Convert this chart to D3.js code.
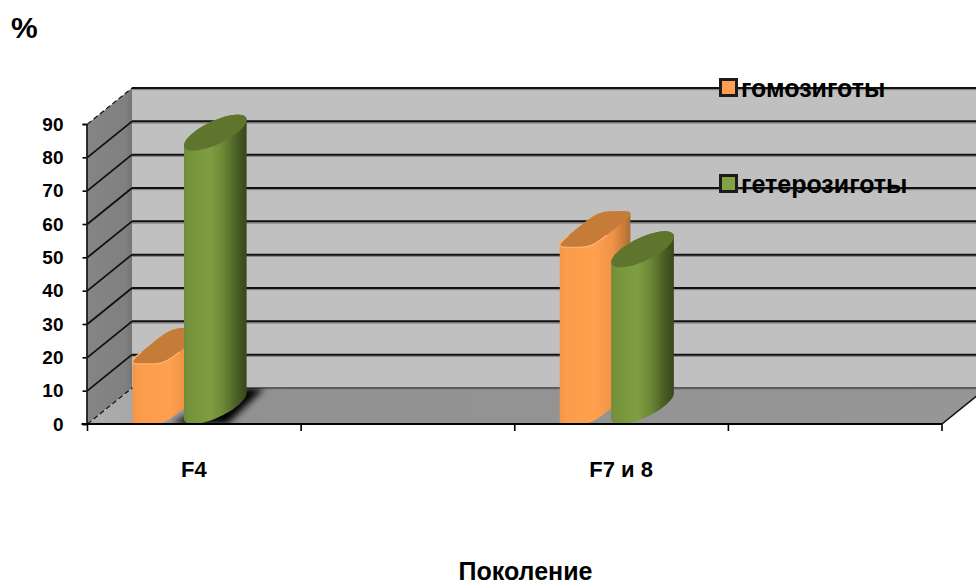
<!DOCTYPE html>
<html>
<head>
<meta charset="utf-8">
<script src="https://cdn.jsdelivr.net/npm/d3@7/dist/d3.min.js"></script>
<style>
  html, body { margin: 0; padding: 0; background: #fff; }
  svg { display: block; }
  text { font-family: "Liberation Sans", Arial, sans-serif; font-weight: 700; fill: #000; }
</style>
</head>
<body>
<svg id="chart" width="976" height="582"></svg>
<script>
// Chart data
const categories = ["F4", "gap1", "F7 и 8", "gap2"];
const categoryLabels = ["F4", "", "F7 и 8", ""];
const seriesNames = ["гомозиготы", "гетерозиготы"];
const homozygotes = [18, null, 53, null];
const heterozygotes = [82, null, 47, null];
const yTicks = [0, 10, 20, 30, 40, 50, 60, 70, 80, 90];

const svg = d3.select("#chart");
const W = 976, H = 582;
const depth = { x: 44.5, y: -36 };

const y = d3.scaleLinear().domain([0, 90]).range([424, 124]);
const x = d3.scaleBand().domain(categories).range([87.5, 942]);

const defs = svg.append("defs");

function hGradient(id, stops) {
  const g = defs.append("linearGradient").attr("id", id)
    .attr("x1", 0).attr("x2", 1).attr("y1", 0).attr("y2", 0);
  stops.forEach(([o, c]) => g.append("stop").attr("offset", o).attr("stop-color", c));
}
hGradient("orangeBody", [[0, "#f39546"], [0.08, "#fb9c4c"], [0.5, "#ffa04f"], [0.75, "#ee9346"], [0.92, "#c67a38"], [1, "#ad6a30"]]);
hGradient("greenBody", [[0, "#6f8a38"], [0.06, "#76933b"], [0.42, "#7f9e40"], [0.62, "#6d8937"], [0.85, "#485d24"], [1, "#37471a"]]);
hGradient("sideWall", [[0, "#858585"], [0.85, "#808080"], [1, "#757575"]]);
hGradient("floorTone", [[0, "#aeaeae"], [0.06, "#a6a6a6"], [0.14, "#919191"], [1, "#969696"]]);

defs.append("filter").attr("id", "softShadow")
  .attr("x", "-30%").attr("y", "-30%").attr("width", "160%").attr("height", "160%")
  .append("feGaussianBlur").attr("stdDeviation", 3.5);
defs.append("filter").attr("id", "softEdge")
  .attr("x", "-10%").attr("y", "-10%").attr("width", "120%").attr("height", "120%")
  .append("feGaussianBlur").attr("stdDeviation", 0.6);
defs.append("clipPath").attr("id", "floorClip").append("polygon")
  .attr("points", [[y.range()[0], 0]].length ? floorPoints().join(" ") : "");

function floorPoints() {
  const x0 = x.range()[0], x1 = x.range()[1], b = y(0);
  return [[x0, b], [x1, b], [x1 + depth.x, b + depth.y], [x0 + depth.x, b + depth.y]];
}

const line = d3.line();
const closed = pts => line(pts) + "Z";

// Walls and floor of the box
const xL = x.range()[0], xR = x.range()[1];
const backL = xL + depth.x;
svg.append("rect").attr("x", backL).attr("y", y(90) + depth.y)
  .attr("width", W - backL).attr("height", y(0) - y(90)).attr("fill", "#c0c0c0");
svg.append("path").attr("fill", "url(#sideWall)")
  .attr("d", closed([[xL, y(0)], [xL, y(90)], [backL, y(90) + depth.y], [backL, y(0) + depth.y]]));
svg.append("path").attr("fill", "url(#floorTone)").attr("d", closed(floorPoints()));

// Grid lines on the back wall and side wall
yTicks.forEach(v => {
  const yb = y(v) + depth.y;
  svg.append("line").attr("x1", backL).attr("x2", W).attr("y1", yb + 1.6).attr("y2", yb + 1.6)
    .attr("stroke", "#8a8a8a").attr("stroke-width", 1.4);
  svg.append("line").attr("x1", backL).attr("x2", W).attr("y1", yb).attr("y2", yb)
    .attr("stroke", v === 0 ? "#5c5c5c" : "#101010").attr("stroke-width", 2);
  const edge = v === 0 || v === 90;
  svg.append("line").attr("x1", xL).attr("x2", backL)
    .attr("y1", y(v)).attr("y2", yb)
    .attr("stroke", "#111").attr("stroke-width", edge ? 1.2 : 1.8)
    .attr("stroke-dasharray", edge ? "5 3" : null);
});

// Floor edge running off to the right
svg.append("line").attr("x1", xR).attr("y1", y(0))
  .attr("x2", xR + depth.x).attr("y2", y(0) + depth.y)
  .attr("stroke", "#111").attr("stroke-width", 1.6);

// Soft cast shadow beside the first green column
const firstCentre = x("F4") + x.bandwidth() / 2;
svg.append("g").attr("clip-path", "url(#floorClip)")
  .append("path").attr("fill", "#000").attr("filter", "url(#softShadow)")
  .attr("d", closed([
    [firstCentre - 24, y(0)], [firstCentre + 33, y(0)],
    [firstCentre + 70, y(0) + depth.y], [firstCentre + 50, y(0) + depth.y]
  ]));

// Cross-section of a column: a superellipse inside a sheared rectangle
function section(cx, baseY, w, roundness) {
  return d3.range(0, 360, 5).map(deg => {
    const t = deg * Math.PI / 180;
    const c = Math.cos(t), s = Math.sin(t);
    const cp = Math.sign(c) * Math.pow(Math.abs(c), roundness);
    const sp = Math.sign(s) * Math.pow(Math.abs(s), roundness);
    return [cx + cp * w / 2 + sp * depth.x / 2, baseY + sp * depth.y / 2];
  });
}

const seriesStyle = [
  { values: homozygotes, offset: -26.5, w: 38, round: 0.45, body: "url(#orangeBody)", cap: "#c57b37", rim: "#ffb36a" },
  { values: heterozygotes, offset: 21, w: 44, round: 1, body: "url(#greenBody)", cap: "#5f752d", rim: null }
];

categories.forEach((cat, i) => {
  seriesStyle.forEach(st => {
    const v = st.values[i];
    if (v == null) return;
    const cx = x(cat) + x.bandwidth() / 2 + st.offset;
    const midBase = y(0) + depth.y / 2;
    const h = y(0) - y(v);
    const bottom = section(cx, midBase, st.w, st.round);
    const top = section(cx, midBase - h, st.w, st.round);
    const g = svg.append("g").attr("filter", "url(#softEdge)");
    g.append("path").attr("fill", st.body).attr("d", closed(d3.polygonHull(bottom.concat(top))));
    g.append("path").attr("fill", st.cap).attr("d", closed(top));
    if (st.rim) {
      const rim = top.filter(p => p[1] > midBase - h + 3 && p[0] < cx + st.w / 2);
      g.append("path").attr("fill", "none").attr("stroke", st.rim).attr("stroke-width", 1.4)
        .attr("d", line(rim));
    }
  });
});

// Value axis
svg.append("g").attr("transform", `translate(${xL - 1},0)`)
  .call(d3.axisLeft(y).tickValues(yTicks).tickSize(4).tickPadding(19).tickFormat(d3.format("d")))
  .call(g => g.selectAll("text").style("font-size", "19px"))
  .call(g => g.selectAll("line,path").attr("stroke", "#000").attr("stroke-width", 1.6));

// Category axis: ticks at band edges, labels at band centres
const tickEdges = categories.map(c => x(c)).concat(xR);
svg.append("line").attr("x1", xL - 6).attr("x2", xR).attr("y1", y(0)).attr("y2", y(0))
  .attr("stroke", "#000").attr("stroke-width", 2.2);
svg.selectAll("line.xtick").data(tickEdges).join("line").attr("class", "xtick")
  .attr("x1", d => d).attr("x2", d => d).attr("y1", y(0)).attr("y2", y(0) + 7)
  .attr("stroke", "#000").attr("stroke-width", 1.6);
svg.selectAll("text.xlab").data(categories).join("text").attr("class", "xlab")
  .attr("x", d => x(d) + x.bandwidth() / 2 - 0.5).attr("y", 477)
  .attr("text-anchor", "middle").style("font-size", "22px")
  .text((d, i) => categoryLabels[i]);

// Axis titles
svg.append("text").attr("x", 11).attr("y", 38).style("font-size", "30px").text("%");
svg.append("text").attr("x", 525.5).attr("y", 580).attr("text-anchor", "middle")
  .style("font-size", "25px").text("Поколение");

// Legend
const legendRows = [
  { y: 78, text: 96.5, fill: "#ff9f4f" },
  { y: 174, text: 192.5, fill: "#84a244" }
];
seriesNames.forEach((name, i) => {
  const r = legendRows[i];
  svg.append("rect").attr("x", 720.5).attr("y", r.y + 1.5).attr("width", 16).attr("height", 16)
    .attr("fill", r.fill).attr("stroke", "#1c1c1c").attr("stroke-width", 3);
  svg.append("text").attr("x", 741).attr("y", r.text).style("font-size", "25px").text(name);
});
</script>
</body>
</html>
